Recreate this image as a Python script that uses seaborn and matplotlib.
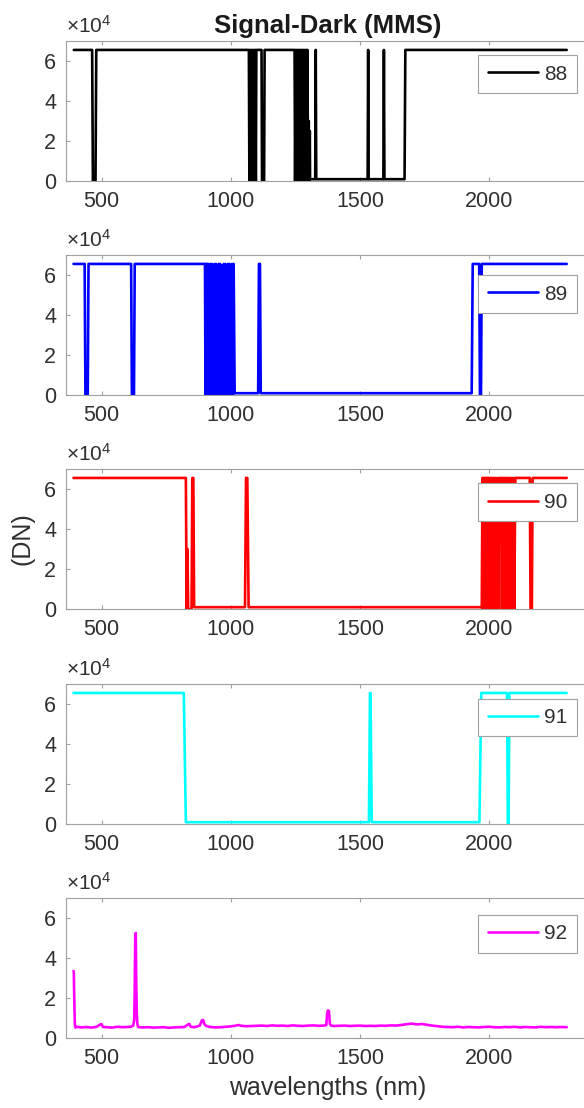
import matplotlib
matplotlib.use("Agg")
import matplotlib.pyplot as plt
import seaborn as sns

# ---------------------------------------------------------------
# Data: (wavelength nm, Signal-Dark DN)
# ---------------------------------------------------------------
pts_88 = [(392, 65535), (463, 65535), (466, 0), (476, 0), (479, 65535),
          (1070, 65535), (1072, 0), (1075, 65535), (1077, 0), (1080, 65535),
          (1082, 0), (1085, 65535), (1087, 0), (1090, 65535), (1092, 0),
          (1095, 65535), (1097, 0), (1099, 65535), (1119, 65535), (1121, 0),
          (1129, 0), (1131, 65535), (1247, 65535), (1249, 0), (1252, 65535),
          (1254, 0), (1257, 65535), (1259, 0), (1262, 65535), (1264, 0),
          (1267, 65535), (1269, 0), (1272, 65535), (1274, 0), (1277, 65535),
          (1279, 0), (1282, 65535), (1284, 0), (1287, 65535), (1289, 0),
          (1292, 65535), (1294, 0), (1297, 65535), (1299, 0), (1302, 30000),
          (1304, 0), (1306, 25000), (1307, 900), (1327, 900), (1329, 65535),
          (1331, 900), (1530, 900), (1532, 65535), (1534, 900), (1591, 900),
          (1593, 65535), (1595, 900), (1673, 900), (1676, 65535), (2301, 65535)]

pts_89 = [(391, 65535), (434, 65535), (437, 0), (446, 0), (449, 65535),
          (614, 65535), (617, 0), (625, 0), (628, 65535), (900, 65535),
          (902, 0), (904, 65535), (906, 0), (908, 65535), (910, 0),
          (912, 65535), (914, 0), (916, 45000), (918, 0), (921, 65535),
          (924, 0), (927, 65535), (930, 0), (932, 38000), (934, 0),
          (937, 65535), (940, 0), (943, 65535), (946, 0), (948, 20000),
          (950, 0), (953, 65535), (956, 0), (959, 65535), (962, 0),
          (964, 42000), (966, 0), (968, 30000), (970, 0), (973, 65535),
          (976, 0), (979, 65535), (982, 0), (984, 15000), (986, 0),
          (989, 65535), (992, 0), (995, 65535), (998, 0), (1000, 10000),
          (1002, 0), (1005, 65535), (1008, 0), (1011, 65535), (1015, 900),
          (1106, 900), (1109, 65535), (1113, 65535), (1116, 900), (1933, 900),
          (1937, 65535), (1962, 65535), (1965, 0), (1969, 0), (1972, 65535),
          (2301, 65535)]

pts_90 = [(391, 65535), (826, 65535), (829, 0), (832, 30000), (835, 0),
          (848, 0), (851, 65535), (855, 65535), (858, 900), (1055, 900),
          (1059, 65535), (1064, 65535), (1069, 900), (1972, 900), (1975, 65535),
          (1977, 0), (1979, 65535), (1981, 0), (1983, 65535), (1985, 0),
          (1987, 65535), (1989, 0), (1991, 65535), (1993, 0), (1995, 65535),
          (1997, 0), (1999, 65535), (2001, 0), (2003, 65535), (2005, 0),
          (2008, 65535), (2010, 0), (2013, 65535), (2016, 0), (2019, 65535),
          (2022, 0), (2026, 65535), (2029, 0), (2033, 65535), (2036, 0),
          (2040, 65535), (2047, 65535), (2050, 0), (2053, 65535), (2055, 0),
          (2057, 65535), (2059, 0), (2061, 65535), (2063, 0), (2066, 65535),
          (2068, 0), (2071, 65535), (2073, 0), (2076, 65535), (2078, 0),
          (2081, 65535), (2084, 0), (2088, 65535), (2091, 0), (2095, 65535),
          (2098, 0), (2102, 65535), (2158, 65535), (2161, 0), (2166, 0),
          (2169, 65535), (2301, 65535)]

pts_91 = [(391, 65535), (818, 65535), (826, 900), (1535, 900), (1539, 65535),
          (1541, 65535), (1546, 900), (1963, 900), (1970, 65535), (2070, 65535),
          (2073, 0), (2076, 0), (2079, 65535), (2301, 65535)]

pts_92 = [(391, 33500), (392, 33000), (394, 18000), (396, 7000), (398, 5200),
          (402, 5600), (420, 5300), (440, 5500), (460, 5200), (480, 5600),
          (495, 6800), (500, 6900), (505, 5500), (520, 5400), (540, 5200),
          (560, 5600), (580, 5400), (600, 5500), (615, 5700), (622, 6200),
          (626, 9000), (628, 25000), (630, 52000), (632, 52500), (634, 26000),
          (636, 12000), (638, 7000), (641, 5600), (645, 5400), (660, 5300),
          (680, 5400), (700, 5200), (720, 5300), (740, 5400), (760, 5100),
          (780, 5300), (800, 5400), (820, 5500), (835, 6800), (840, 7000),
          (845, 5600), (860, 5400), (880, 6200), (888, 8800), (893, 9000),
          (898, 6800), (905, 6000), (920, 5500), (940, 5300), (960, 5400),
          (980, 5600), (1000, 5800), (1020, 6200), (1030, 6500), (1040, 6100),
          (1060, 5900), (1080, 6000), (1100, 6100), (1120, 6200), (1140, 6000),
          (1160, 6300), (1180, 6100), (1200, 6200), (1220, 6000), (1240, 6300),
          (1260, 6100), (1280, 6000), (1300, 6200), (1320, 6300), (1340, 6100),
          (1360, 6200), (1370, 6400), (1373, 12000), (1376, 13800), (1380, 13500),
          (1384, 7000), (1388, 6200), (1400, 6000), (1420, 6100), (1440, 6200),
          (1460, 6000), (1480, 6100), (1500, 6200), (1520, 6000), (1540, 6100),
          (1560, 6000), (1580, 6200), (1600, 6100), (1620, 6300), (1640, 6200),
          (1660, 6500), (1680, 6900), (1700, 7200), (1720, 6800), (1740, 7000),
          (1760, 6600), (1780, 6200), (1800, 5900), (1820, 5600), (1840, 5500),
          (1860, 5400), (1880, 5600), (1900, 5300), (1920, 5500), (1940, 5400),
          (1960, 5300), (1980, 5500), (2000, 5600), (2020, 5400), (2040, 5300),
          (2060, 5500), (2080, 5400), (2100, 5600), (2120, 5300), (2140, 5500),
          (2160, 5400), (2180, 5300), (2200, 5600), (2220, 5400), (2240, 5500),
          (2260, 5400), (2280, 5500), (2301, 5400)]

names = ["88", "89", "90", "91", "92"]
colors = ["#000000", "#0000ff", "#ff0000", "#00ffff", "#ff00ff"]
legend_y = [0.763, 0.72, 0.762, 0.76, 0.745]
series = [pts_88, pts_89, pts_90, pts_91, pts_92]

xticks = [500, 1000, 1500, 2000]
yticks = [0, 20000, 40000, 60000]
ytick_labels = ["0", "2", "4", "6"]

# ---------------------------------------------------------------
# Style
# ---------------------------------------------------------------
sns.set_theme(style="white")
plt.rcParams.update({
    "font.family": ["Liberation Sans", "DejaVu Sans"],
    "mathtext.fontset": "custom",
    "mathtext.rm": "Liberation Sans",
    "mathtext.it": "Liberation Sans:italic",
    "axes.edgecolor": "#a0a0a0",
    "axes.linewidth": 0.8,
})
TXT = "#303030"

W, H = 584, 1108
fig = plt.figure(figsize=(W / 100, H / 100), dpi=100)
fig.patch.set_facecolor("white")

# the axes run past the right edge of the picture (cropped figure)
left_px, right_px = 65.8, 600
px_per_nm = 0.2582
x_lo = 361
x_hi = x_lo + (right_px - left_px) / px_per_nm
center_frac = (327.5 - left_px) / (right_px - left_px)
legend_x = (527.5 - left_px) / (right_px - left_px)
tops_px = [41, 255, 469, 684, 898]
h_px = 140

axes = []
for pts, name, color, ly, top in zip(series, names, colors, legend_y, tops_px):
    wl = [p[0] for p in pts]
    dn = [p[1] for p in pts]
    ax = fig.add_axes([left_px / W, 1 - (top + h_px) / H,
                       (right_px - left_px) / W, h_px / H])
    sns.lineplot(x=wl, y=dn, ax=ax, color=color, lw=1.9, label=name,
                 estimator=None, sort=False)
    ax.set_xlim(x_lo, x_hi)
    ax.set_ylim(0, 70000)
    ax.set_xticks(xticks)
    ax.set_xticklabels([str(t) for t in xticks])
    ax.set_yticks(yticks)
    ax.set_yticklabels(ytick_labels)
    ax.tick_params(direction="in", length=3, width=0.8, color="#a0a0a0",
                   top=True, right=True, bottom=True, left=True,
                   labelsize=15.5, labelcolor=TXT, pad=7)
    for s in ax.spines.values():
        s.set_visible(True)
    ax.set_xlabel("")
    ax.set_ylabel("")
    ax.annotate(r"$\times10^{4}$", xy=(0, 1), xycoords="axes fraction",
                xytext=(0, 3), textcoords="offset points",
                ha="left", va="bottom", fontsize=15, color=TXT)
    leg = ax.legend(loc="center", bbox_to_anchor=(legend_x, ly), fontsize=15,
                    handlelength=2.4, handletextpad=0.3, borderpad=0.45,
                    borderaxespad=0, fancybox=False, framealpha=1,
                    edgecolor="#a0a0a0")
    leg.get_frame().set_linewidth(0.8)
    for t in leg.get_texts():
        t.set_color(TXT)
    axes.append(ax)

axes[0].set_title("Signal-Dark (MMS)", fontsize=18.5, fontweight="bold",
                  color="#1a1a1a", pad=6, x=center_frac)
axes[2].set_ylabel("(DN)", fontsize=18, color=TXT)
axes[2].yaxis.set_label_coords(-0.06 * 523.2 / (right_px - left_px), 0.5)
axes[4].set_xlabel("wavelengths (nm)", fontsize=18, color=TXT, labelpad=6)
axes[4].xaxis.set_label_coords(center_frac, -0.27)

fig.savefig("out.png", dpi=100)
